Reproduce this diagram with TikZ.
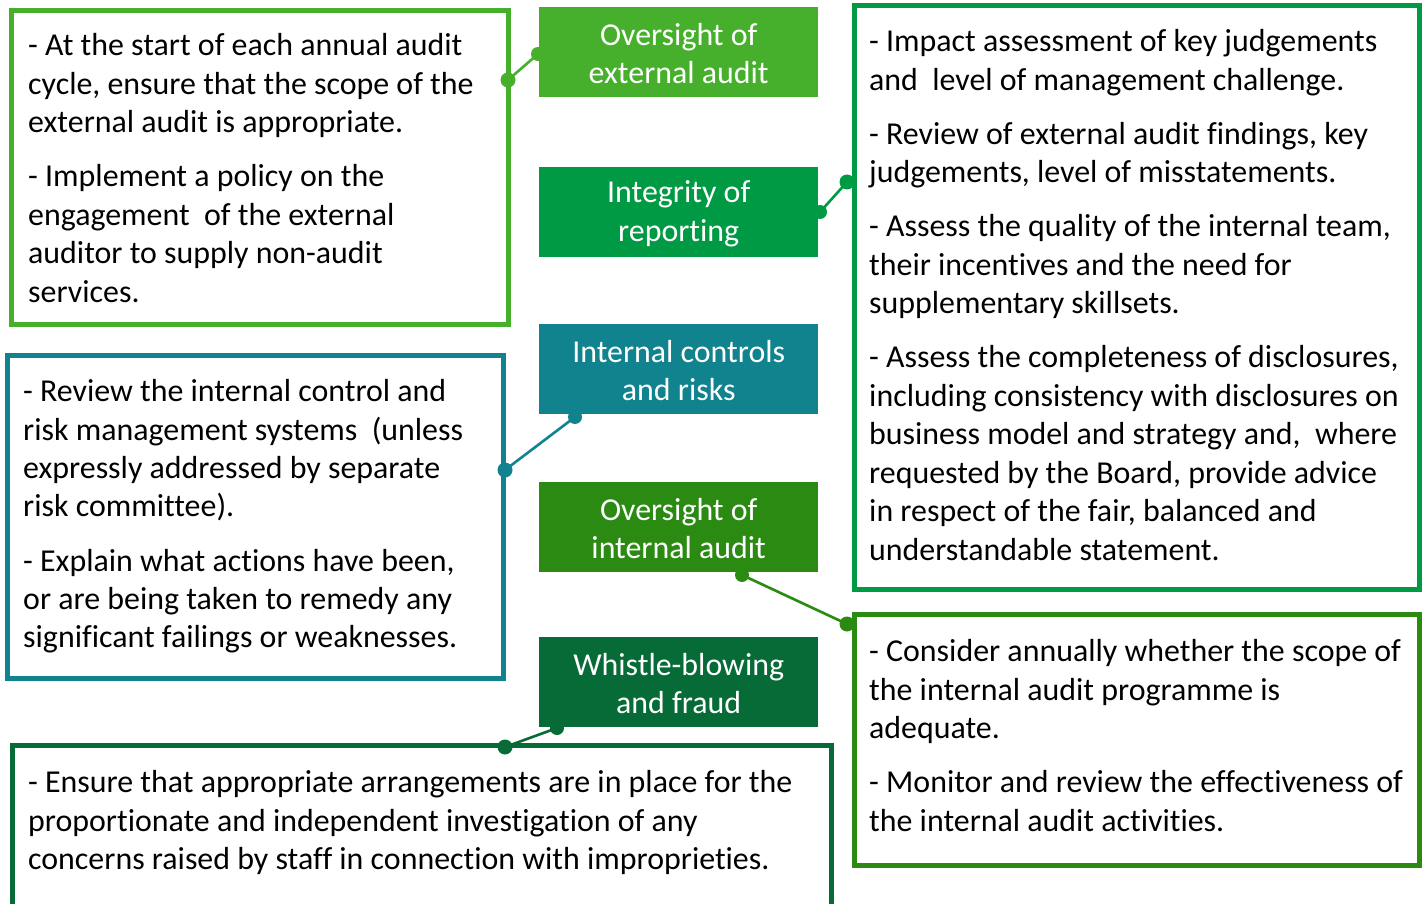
\documentclass[tikz,border=0pt]{standalone}
\usepackage{fontspec}
\setmainfont{Carlito}[Ligatures={NoCommon,NoContextual}]
\definecolor{cA}{HTML}{46B02C}
\definecolor{cB}{HTML}{009A44}
\definecolor{cC}{HTML}{10838E}
\definecolor{cD}{HTML}{2A8A12}
\definecolor{cE}{HTML}{076B38}
\newcommand\Lx[1]{\hbox{#1}}
\newcommand\Pgap{\vskip15.5pt}
\newcommand\txtlines[1]{\vtop{\baselineskip=38.5pt #1}}
\tikzset{
  frame/.style={draw=#1, line width=5pt},
  hdr/.style={fill=#1, text=white, anchor=north west, minimum width=279pt, minimum height=90pt,
    inner sep=0pt, align=center, font=\fontsize{31.9}{38.5}\selectfont},
  hdrtext/.style={text=white, inner sep=0pt, align=center, font=\fontsize{31.9}{38.5}\selectfont},
  body/.style={anchor=base west, inner sep=0pt, font=\fontsize{31.9}{38.5}\selectfont},
  conn/.style={draw=#1, line width=2.6pt},
  dot/.style={fill=#1}
}
\begin{document}
\begin{tikzpicture}[x=1pt,y=-1pt]
\clip (0,0) rectangle (1428,904);
\fill[white] (0,0) rectangle (1428,904);
% frames
\draw[frame=cA] (11.5,10.5) rectangle (508,324);
\draw[frame=cB] (854.5,5.5) rectangle (1419.5,589.5);
\draw[frame=cC] (7.5,355) rectangle (503.5,678);
\draw[frame=cD] (854.5,614.5) rectangle (1419.5,865.5);
\draw[frame=cE] (12,745.5) rectangle (831.5,940);
% headers
\node[hdr=cA] (h1) at (539,7) {};
\node[hdr=cB] (h2) at (539,167) {};
\node[hdr=cC] (h3) at (539,324) {};
\node[hdr=cD] (h4) at (539,482) {};
\node[hdr=cE] (h5) at (539,637) {};
\node[hdrtext, yshift=-1.5pt] (l1) at (h1.center) {Oversight of\\external audit};
\node[hdrtext, yshift=-1.5pt] (l2) at (h2.center) {Integrity of\\reporting};
\node[hdrtext, yshift=-1.5pt] (l3) at (h3.center) {Internal controls\\and risks};
\node[hdrtext, yshift=-1.5pt] (l4) at (h4.center) {Oversight of\\internal audit};
\node[hdrtext, yshift=-1.5pt] (l5) at (h5.center) {Whistle-blowing\\and fraud};
% body texts
\node[body] (t1) at (28,56) {\txtlines{%
\Lx{- At the start of each annual audit}%
\Lx{cycle, ensure that the scope of the}%
\Lx{external audit is appropriate.}\Pgap
\Lx{- Implement a policy on the}%
\Lx{engagement\ \ of the external}%
\Lx{auditor to supply non-audit}%
\Lx{services.}}};
\node[body] (t2) at (869,52) {\txtlines{%
\Lx{- Impact assessment of key judgements}%
\Lx{and\ \ level of management challenge.}\Pgap
\Lx{- Review of external audit findings, key}%
\Lx{judgements, level of misstatements.}\Pgap
\Lx{- Assess the quality of the internal team,}%
\Lx{their incentives and the need for}%
\Lx{supplementary skillsets.}\Pgap
\Lx{- Assess the completeness of disclosures,}%
\Lx{including consistency with disclosures on}%
\Lx{business model and strategy and,\ \ where}%
\Lx{requested by the Board, provide advice}%
\Lx{in respect of the fair, balanced and}%
\Lx{understandable statement.}}};
\node[body] (t3) at (23,401.5) {\txtlines{%
\Lx{- Review the internal control and}%
\Lx{risk management systems\ \ (unless}%
\Lx{expressly addressed by separate}%
\Lx{risk committee).}\Pgap
\Lx{- Explain what actions have been,}%
\Lx{or are being taken to remedy any}%
\Lx{significant failings or weaknesses.}}};
\node[body] (t4) at (869,661.5) {\txtlines{%
\Lx{- Consider annually whether the scope of}%
\Lx{the internal audit programme is}%
\Lx{adequate.}\Pgap
\Lx{- Monitor and review the effectiveness of}%
\Lx{the internal audit activities.}}};
\node[body] (t5) at (28,792.5) {\txtlines{%
\Lx{- Ensure that appropriate arrangements are in place for the}%
\Lx{proportionate and independent investigation of any}%
\Lx{concerns raised by staff in connection with improprieties.}}};
% connector end points
\coordinate (a1) at (538,54);
\coordinate (b1) at (508,80);
\coordinate (a2) at (820,212);
\coordinate (b2) at (847,182);
\coordinate (a3) at (575,417);
\coordinate (b3) at (505,470);
\coordinate (a4) at (742,575);
\coordinate (b4) at (847,624);
\coordinate (a5) at (557,728);
\coordinate (b5) at (505,747);
\draw[conn=cA] (a1) -- (b1);
\draw[conn=cB] (a2) -- (b2);
\draw[conn=cC] (a3) -- (b3);
\draw[conn=cD] (a4) -- (b4);
\draw[conn=cE] (a5) -- (b5);
\fill[dot=cA] (a1) circle (7) (b1) circle (7.5);
\fill[dot=cB] (a2) circle (7) (b2) circle (7.5);
\fill[dot=cC] (a3) circle (7) (b3) circle (7.5);
\fill[dot=cD] (a4) circle (7) (b4) circle (7.5);
\fill[dot=cE] (a5) circle (7) (b5) circle (7.5);
\end{tikzpicture}
\end{document}
